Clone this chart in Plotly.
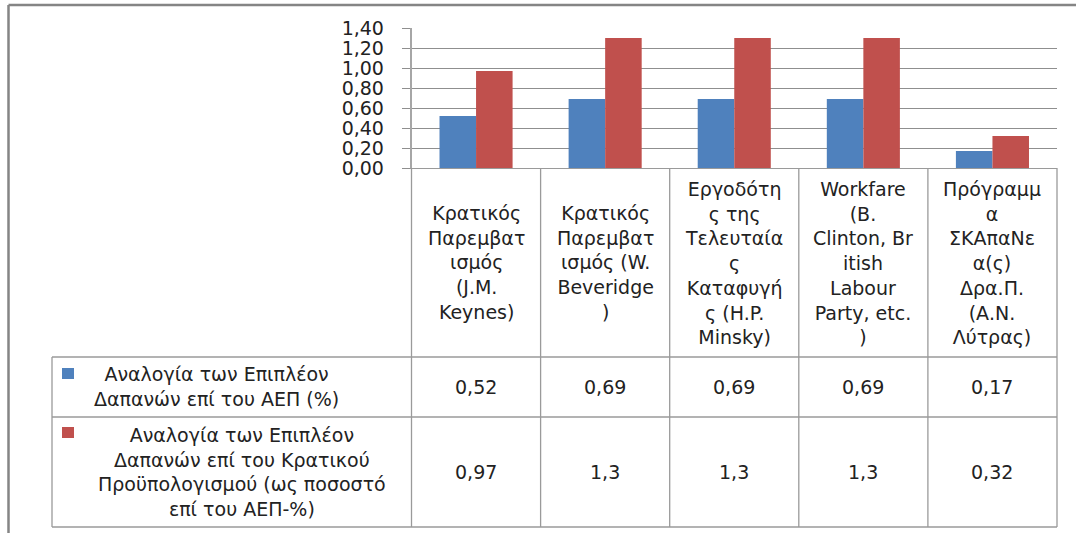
import plotly.graph_objects as go

# ---------------- data ----------------
categories = [
    "Κρατικός<br>Παρεμβατ<br>ισμός<br>(J.M.<br>Keynes)",
    "Κρατικός<br>Παρεμβατ<br>ισμός (W.<br>Beveridge<br>)",
    "Εργοδότη<br>ς της<br>Τελευταία<br>ς<br>Καταφυγή<br>ς (H.P.<br>Minsky)",
    "Workfare<br>(B.<br>Clinton, Br<br>itish<br>Labour<br>Party, etc.<br>)",
    "Πρόγραμμ<br>α<br>ΣΚΑπαΝε<br>α(ς)<br>Δρα.Π.<br>(Α.Ν.<br>Λύτρας)",
]
series_names = [
    "Αναλογία των Επιπλέον<br>Δαπανών επί του ΑΕΠ (%)",
    "Αναλογία των Επιπλέον<br>Δαπανών επί του Κρατικού<br>Προϋπολογισμού (ως ποσοστό<br>επί του ΑΕΠ-%)",
]
gdp_share = [0.52, 0.69, 0.69, 0.69, 0.17]
budget_share = [0.97, 1.3, 1.3, 1.3, 0.32]
series_values = [gdp_share, budget_share]
series_colors = ["#4F81BD", "#C0504D"]
y_ticks = [0, 0.2, 0.4, 0.6, 0.8, 1.0, 1.2, 1.4]

# ---------------- layout helpers ----------------
W, H = 1076, 533
FONT = "DejaVu Sans"
TXT = "#222222"
LINE = "#9a9a9a"
FS = 19


def px(x):
    return x / W


def py(y):
    return 1 - y / H


x_left, x_right = 411.5, 1057
y_top, y_bottom = 28, 168
dom_x = [px(x_left), px(x_right)]
dom_y = [py(y_bottom), py(y_top)]

fig = go.Figure()
for name, vals, col in zip(series_names, series_values, series_colors):
    fig.add_trace(go.Bar(x=categories, y=vals, name=name, marker=dict(color=col, line=dict(width=0))))

shapes = []
# outer chart border (left + top)
shapes.append(dict(type="line", xref="paper", yref="paper", x0=px(8.5), x1=px(8.5), y0=py(5), y1=0,
                   line=dict(color="#858585", width=2.5)))
shapes.append(dict(type="line", xref="paper", yref="paper", x0=px(8.5), x1=1, y0=py(5), y1=py(5),
                   line=dict(color="#858585", width=2.5)))

# data-table vertical lines
n = len(categories)
col_w = (x_right - x_left) / n
for i in range(n + 1):
    xx = x_left + i * col_w
    shapes.append(dict(type="line", xref="paper", yref="paper", x0=px(xx), x1=px(xx), y0=py(y_bottom), y1=py(527),
                       line=dict(color=LINE, width=1.3)))
# legend column left line
shapes.append(dict(type="line", xref="paper", yref="paper", x0=px(52), x1=px(52), y0=py(357), y1=py(527),
                   line=dict(color=LINE, width=1.3)))
# horizontal table lines
for yy in [357, 417, 527]:
    shapes.append(dict(type="line", xref="paper", yref="paper", x0=px(52), x1=px(x_right), y0=py(yy), y1=py(yy),
                       line=dict(color=LINE, width=1.3)))
# legend keys
key_rows = [(368, 379), (427, 438)]
for (t, b), col in zip(key_rows, series_colors):
    shapes.append(dict(type="rect", xref="paper", yref="paper", x0=px(62), x1=px(74), y0=py(b), y1=py(t),
                       fillcolor=col, line=dict(width=0)))

annotations = []
# category labels in header row
for c in categories:
    annotations.append(dict(x=c, xref="x", y=py(263), yref="paper", text=c, showarrow=False,
                            font=dict(family=FONT, size=FS, color=TXT), align="center",
                            xanchor="center", yanchor="middle"))
# series names
name_pos = [(216, 386), (242, 472)]
for (nx, ny), name in zip(name_pos, series_names):
    annotations.append(dict(x=px(nx), xref="paper", y=py(ny), yref="paper", text=name, showarrow=False,
                            font=dict(family=FONT, size=FS, color=TXT), align="center",
                            xanchor="center", yanchor="middle"))
# values
row_y = [387, 472]
for ry, vals in zip(row_y, series_values):
    for c, v in zip(categories, vals):
        annotations.append(dict(x=c, xref="x", y=py(ry), yref="paper", text=str(v).replace(".", ","),
                                showarrow=False, font=dict(family=FONT, size=FS, color=TXT),
                                xanchor="center", yanchor="middle"))

fig.update_layout(
    width=W, height=H,
    margin=dict(l=0, r=0, t=0, b=0),
    paper_bgcolor="white", plot_bgcolor="white",
    separators=",.",
    barmode="group", bargap=0.434, bargroupgap=0,
    showlegend=False,
    font=dict(family=FONT, size=FS, color=TXT),
    xaxis=dict(domain=dom_x, showticklabels=False, ticks="", showgrid=False, zeroline=False,
               showline=True, linecolor=LINE, linewidth=1.3, range=[-0.5, n - 0.5], automargin=False),
    yaxis=dict(domain=dom_y, range=[0, 1.4], tickvals=y_ticks, tickformat=".2f",
               showgrid=True, gridcolor="#8f8f8f", gridwidth=1, zeroline=False,
               showline=True, linecolor="#a6a6a6", linewidth=1.5,
               ticks="outside", ticklen=8, tickcolor="#8f8f8f", tickwidth=1,
               ticklabelstandoff=14, automargin=False,
               tickfont=dict(family=FONT, size=FS, color=TXT)),
    shapes=shapes,
    annotations=annotations,
)

fig.write_html("out.html", config={"displayModeBar": False},
               post_script="document.body.style.margin='0px';document.body.style.padding='0px';"
                           "document.documentElement.style.overflow='hidden';")
